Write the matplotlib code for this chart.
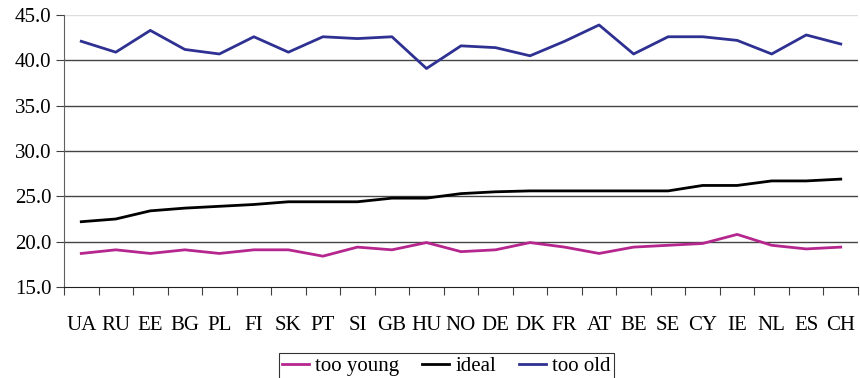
import matplotlib.pyplot as plt
import numpy as np

plt.rcParams['font.family'] = ['Liberation Serif', 'DejaVu Serif']

countries = ['UA', 'RU', 'EE', 'BG', 'PL', 'FI', 'SK', 'PT', 'SI', 'GB', 'HU', 'NO',
             'DE', 'DK', 'FR', 'AT', 'BE', 'SE', 'CY', 'IE', 'NL', 'ES', 'CH']

too_young = [18.7, 19.1, 18.7, 19.1, 18.7, 19.1, 19.1, 18.4, 19.4, 19.1, 19.9, 18.9,
             19.1, 19.9, 19.4, 18.7, 19.4, 19.6, 19.8, 20.8, 19.6, 19.2, 19.4]
ideal = [22.2, 22.5, 23.4, 23.7, 23.9, 24.1, 24.4, 24.4, 24.4, 24.8, 24.8, 25.3,
         25.5, 25.6, 25.6, 25.6, 25.6, 25.6, 26.2, 26.2, 26.7, 26.7, 26.9]
too_old = [42.1, 40.9, 43.3, 41.2, 40.7, 42.6, 40.9, 42.6, 42.4, 42.6, 39.1, 41.6,
           41.4, 40.5, 42.1, 43.9, 40.7, 42.6, 42.6, 42.2, 40.7, 42.8, 41.8]

x = np.arange(len(countries))

fig = plt.figure(figsize=(8.6, 3.78), dpi=100)
ax = fig.add_axes([64 / 860, 1 - 287 / 378, 794 / 860, 272 / 378])

ax.plot(x, too_young, color='#B5268E', lw=2, label='too young', zorder=3)
ax.plot(x, ideal, color='black', lw=2, label='ideal', zorder=3)
ax.plot(x, too_old, color='#2E3192', lw=2, label='too old', zorder=3)

ax.set_xlim(-0.5, len(countries) - 0.5)
ax.set_ylim(15, 45)
ax.set_yticks(np.arange(15, 46, 5))
ax.set_yticklabels(['%.1f' % v for v in np.arange(15, 46, 5)], fontsize=15)

# ticks between categories, labels centred on categories
ax.set_xticks(np.arange(-0.5, len(countries), 1))
ax.set_xticklabels([])
ax.set_xticks(x, minor=True)
ax.set_xticklabels(countries, minor=True, fontsize=15)
ax.tick_params(axis='x', which='major', length=6, direction='out', color='#404040')
ax.tick_params(axis='x', which='minor', length=0, pad=21)
ax.tick_params(axis='y', length=6, direction='out', color='#404040', pad=3)

for v in [20, 25, 30, 35, 40]:
    ax.axhline(v, color='#444444', lw=1, zorder=1)
ax.axhline(45, color='#dddddd', lw=1, zorder=1)

for s in ['top', 'right']:
    ax.spines[s].set_visible(False)
ax.spines['left'].set_color('#606060')
ax.spines['bottom'].set_color('#202020')

leg = fig.legend(loc='upper center', bbox_to_anchor=(0.519, 1 - 343 / 378), ncol=3,
                 fontsize=15, frameon=True, fancybox=False, handlelength=1.3,
                 columnspacing=1.1, handletextpad=0.3, borderpad=0.15)
leg.get_frame().set_edgecolor('black')
leg.get_frame().set_linewidth(0.8)

fig.savefig('out.png', dpi=100)
